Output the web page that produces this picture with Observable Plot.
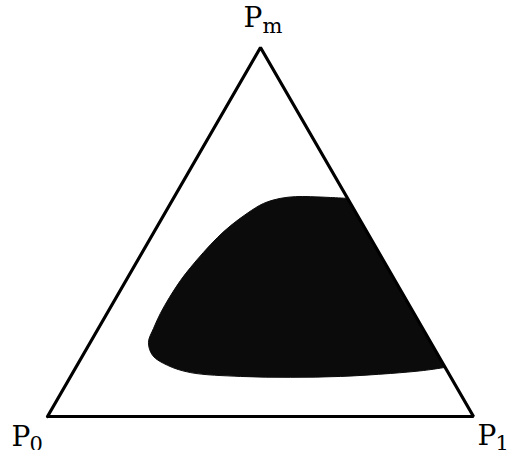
<!DOCTYPE html>
<html>
<head>
<meta charset="utf-8">
<script src="https://cdn.jsdelivr.net/npm/d3@7"></script>
<script src="https://cdn.jsdelivr.net/npm/@observablehq/plot@0.6"></script>
<style>
  html, body { margin: 0; padding: 0; background: #fff; }
  #chart svg { display: block; }
</style>
</head>
<body>
<div id="chart"></div>
<script>
// Triangle vertices (unit side, Cartesian ternary layout)
const vertexNames = ["P0", "P1", "Pm"];
const vertexX = [0, 1, 0.5];
const vertexY = [0, 0, Math.sqrt(3) / 2];
const vertexBase = ["P", "P", "P"];
const vertexSub = ["0", "1", "m"];

// Boundary of the shaded region, from the right edge round to the right edge
const regionX = [0.704, 0.664, 0.617, 0.582, 0.547, 0.507, 0.469, 0.430, 0.399, 0.366, 0.336, 0.312, 0.286, 0.265, 0.249, 0.237, 0.247, 0.282, 0.336, 0.453, 0.570, 0.688, 0.805, 0.883, 0.932];
const regionY = [0.512, 0.514, 0.516, 0.516, 0.512, 0.500, 0.477, 0.448, 0.420, 0.385, 0.350, 0.319, 0.279, 0.242, 0.207, 0.174, 0.143, 0.120, 0.103, 0.094, 0.092, 0.094, 0.101, 0.108, 0.115];

const region = regionX.map((x, i) => ({x, y: regionY[i]}));
const tri = [0, 1, 2, 0].map(i => ({x: vertexX[i], y: vertexY[i]}));
const verts = vertexNames.map((n, i) => ({name: n, x: vertexX[i], y: vertexY[i], base: vertexBase[i], sub: vertexSub[i]}));

// label offsets (px) per vertex
const baseDx = [-36, 4, -17];
const baseDy = [29, 28, -21];
const subDx = [-18, 22, 2];
const subDy = [34, 33, -15];

const font = "'DejaVu Serif', 'Liberation Serif', serif";
const marks = [
  Plot.line(region, {x: "x", y: "y", fill: "#0b0b0b", stroke: "#0b0b0b", strokeWidth: 1, curve: "catmull-rom"}),
  Plot.line(tri, {x: "x", y: "y", stroke: "black", strokeWidth: 3.2, strokeLinejoin: "miter"})
];
verts.forEach((v, i) => {
  marks.push(Plot.text([v], {x: "x", y: "y", text: "base", textAnchor: "start", lineAnchor: "bottom", dx: baseDx[i], dy: baseDy[i], fontSize: 28, fontFamily: font, fill: "black"}));
  marks.push(Plot.text([v], {x: "x", y: "y", text: "sub", textAnchor: "start", lineAnchor: "bottom", dx: subDx[i], dy: subDy[i], fontSize: 21, fontFamily: font, fill: "black"}));
});

const chart = Plot.plot({
  width: 507,
  height: 450,
  marginLeft: 47,
  marginRight: 34,
  marginTop: 47,
  marginBottom: 34,
  x: {domain: [0, 1], axis: null},
  y: {domain: [0, Math.sqrt(3) / 2], axis: null},
  style: {background: "white", overflow: "visible"},
  marks
});
document.getElementById("chart").appendChild(chart);
</script>
</body>
</html>
